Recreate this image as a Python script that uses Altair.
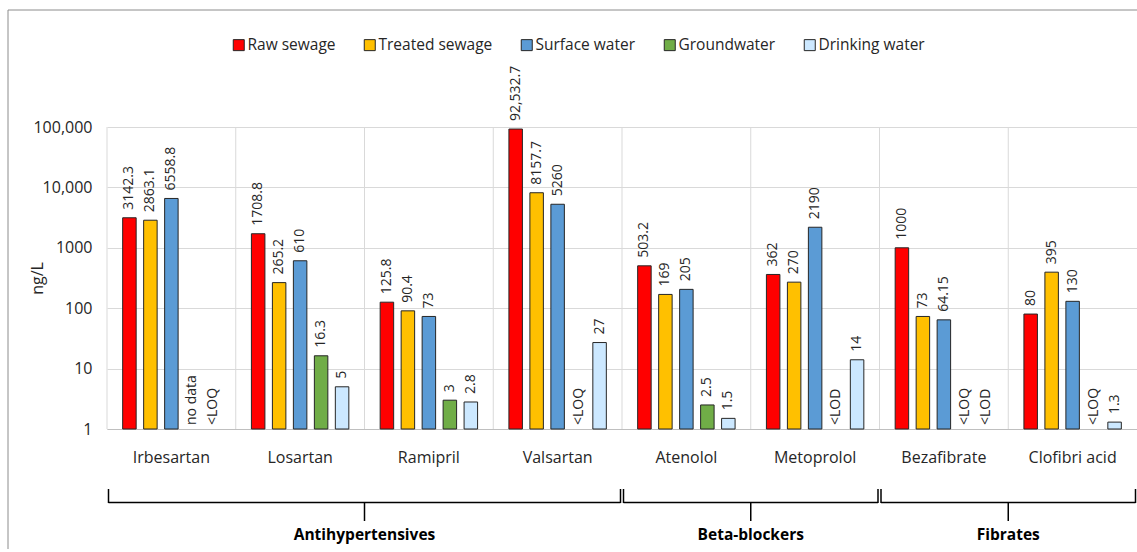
import altair as alt
import pandas as pd

FONT = "Open Sans"
TEXT = "#262626"

# Compounds on the x axis and the therapeutic class each one belongs to
drugs = ["Irbesartan", "Losartan", "Ramipril", "Valsartan",
         "Atenolol", "Metoprolol", "Bezafibrate", "Clofibri acid"]
drug_class = ["Antihypertensives"] * 4 + ["Beta-blockers"] * 2 + ["Fibrates"] * 2

# Water matrices (one bar each per compound)
series = ["Raw sewage", "Treated sewage", "Surface water", "Groundwater", "Drinking water"]
colors = ["#FF0000", "#FFC000", "#5B9BD5", "#70AD47", "#CCE8FF"]

# Concentrations in ng/L; strings are reported instead of a measured value
raw_sewage = [3142.3, 1708.8, 125.8, 92532.7, 503.2, 362, 1000, 80]
treated_sewage = [2863.1, 265.2, 90.4, 8157.7, 169, 270, 73, 395]
surface_water = [6558.8, 610, 73, 5260, 205, 2190, 64.15, 130]
groundwater = ["no data", 16.3, 3, "<LOQ", 2.5, "<LOD", "<LOQ", "<LOQ"]
drinking_water = ["<LOQ", 5, 2.8, 27, 1.5, 14, "<LOD", 1.3]

y_ticks = [1, 10, 100, 1000, 10000, 100000]

W, H = 1030, 302


def fmt(v):
    return f"{v:,}" if v >= 10000 else str(v)


rows, notes = [], []
for name, vals in zip(series, [raw_sewage, treated_sewage, surface_water,
                               groundwater, drinking_water]):
    for drug, v in zip(drugs, vals):
        if isinstance(v, str):
            notes.append({"drug": drug, "series": name, "note": v})
        else:
            rows.append({"drug": drug, "series": name, "value": v, "label": fmt(v)})
bars_df = pd.DataFrame(rows)
notes_df = pd.DataFrame(notes)

# One bracket per class: first and last compound, and the compound whose band
# starts at the middle of the class (classes hold an even number of compounds)
groups = []
for cls in dict.fromkeys(drug_class):
    idx = [i for i, c in enumerate(drug_class) if c == cls]
    groups.append({"group": cls, "first": drugs[idx[0]], "last": drugs[idx[-1]],
                   "mid": drugs[idx[0] + len(idx) // 2]})
groups_df = pd.DataFrame(groups)

x_scale = alt.Scale(domain=drugs, paddingInner=0, paddingOuter=0)
x_axis = alt.Axis(title=None, labelAngle=0, labelFont=FONT, labelFontSize=16,
                  labelColor=TEXT, labelPadding=20, ticks=False, tickSize=0,
                  domainColor="#bfbfbf", domainWidth=1, grid=False)
x_enc = alt.X("drug:N", sort=drugs, scale=x_scale, axis=x_axis)
x_off = alt.XOffset("series:N", sort=series,
                    scale=alt.Scale(domain=series, paddingInner=0.357, paddingOuter=0.747))
y_enc = alt.Y(
    "value:Q",
    stack=None,
    scale=alt.Scale(type="log", domain=[1, 100000], nice=False),
    axis=alt.Axis(
        values=y_ticks,
        labelExpr="datum.value >= 10000 ? format(datum.value, ',') : format(datum.value, 'd')",
        labelFont=FONT, labelFontSize=16, labelColor=TEXT, labelPadding=15,
        ticks=False, tickSize=0, domain=False,
        grid=True, gridColor="#d9d9d9", gridWidth=1,
        title="ng/L", titleFont=FONT, titleFontSize=16, titleFontWeight="normal",
        titleColor=TEXT, titleAngle=270, titleX=-70, titleY=H / 2,
        titleAlign="center", titleBaseline="middle",
    ),
)

# Outer frame of the figure
frame = alt.Chart(alt.Data(values=[{}])).mark_rect(
    fill="transparent", stroke="#8c8c8c", strokeWidth=1
).encode(x=alt.value(-99), y=alt.value(-117), x2=alt.value(W + 60), y2=alt.value(H + 200))

# Vertical separators at the start of each compound band
separators = alt.Chart(pd.DataFrame({"drug": drugs})).mark_rule(
    color="#d9d9d9", strokeWidth=1
).encode(
    x=alt.X("drug:N", sort=drugs, scale=x_scale, axis=x_axis, bandPosition=0),
    y=alt.value(0),
    y2=alt.value(H),
)

bars = alt.Chart(bars_df).mark_bar(stroke="#262626", strokeWidth=1).encode(
    x=x_enc,
    xOffset=x_off,
    y=y_enc,
    y2=alt.value(H),
    color=alt.Color(
        "series:N", sort=series,
        scale=alt.Scale(domain=series, range=colors),
        legend=alt.Legend(
            orient="none", legendX=124, legendY=-90, direction="horizontal",
            title=None, symbolType="square", symbolSize=121,
            symbolStrokeColor="#262626", symbolStrokeWidth=1, symbolOpacity=1,
            labelFont=FONT, labelFontSize=15.5, labelColor=TEXT,
            labelOffset=1, columnPadding=26,
        ),
    ),
)

value_labels = alt.Chart(bars_df).mark_text(
    angle=270, align="left", baseline="middle", dx=8,
    font=FONT, fontSize=14, color=TEXT,
).encode(x=x_enc, xOffset=x_off, y=y_enc, text="label:N")

note_labels = alt.Chart(notes_df).mark_text(
    angle=270, align="left", baseline="middle", dx=4,
    font=FONT, fontSize=14, color=TEXT,
).encode(x=x_enc, xOffset=x_off, y=alt.value(H), text="note:N")

# Curly brackets grouping compounds by class
gb = alt.Chart(groups_df)
brace_line = gb.mark_rule(color="black", strokeWidth=1.5, xOffset=1.5, x2Offset=-1.5).encode(
    x=alt.X("first:N", sort=drugs, scale=x_scale, axis=x_axis, bandPosition=0),
    x2=alt.X2("last:N", bandPosition=1),
    y=alt.value(375.5),
)
brace_left = gb.mark_rule(color="black", strokeWidth=1.5, xOffset=1.5).encode(
    x=alt.X("first:N", sort=drugs, scale=x_scale, axis=x_axis, bandPosition=0),
    y=alt.value(362), y2=alt.value(376))
brace_right = gb.mark_rule(color="black", strokeWidth=1.5, xOffset=-1.5).encode(
    x=alt.X("last:N", sort=drugs, scale=x_scale, axis=x_axis, bandPosition=1),
    y=alt.value(362), y2=alt.value(376))
brace_tip = gb.mark_rule(color="black", strokeWidth=1.5).encode(
    x=alt.X("mid:N", sort=drugs, scale=x_scale, axis=x_axis, bandPosition=0),
    y=alt.value(375), y2=alt.value(394))
brace_text = gb.mark_text(
    font=FONT, fontSize=15.5, fontWeight="bold", color="black", baseline="middle"
).encode(
    x=alt.X("mid:N", sort=drugs, scale=x_scale, axis=x_axis, bandPosition=0),
    y=alt.value(408), text="group:N")

chart = alt.layer(
    frame, separators, bars, value_labels, note_labels,
    brace_line, brace_left, brace_right, brace_tip, brace_text,
).properties(
    width=W, height=H,
    autosize=alt.AutoSizeParams(type="none"),
    padding={"left": 107, "top": 127, "right": 0, "bottom": 120},
    background="white",
).configure_view(stroke=None)

chart.save("out.html", embed_options={"renderer": "svg", "actions": False})
